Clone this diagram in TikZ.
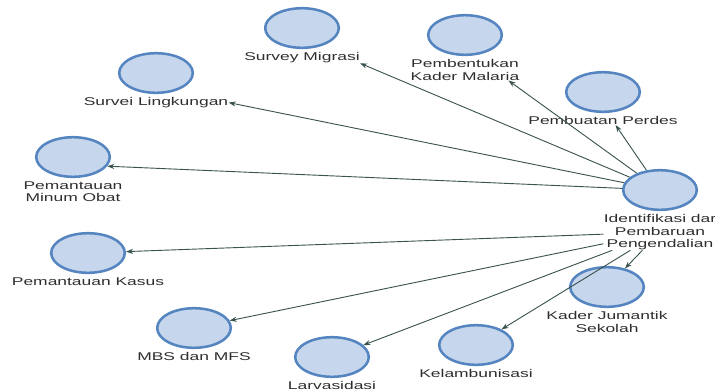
\documentclass[tikz,border=0pt]{standalone}
\usepackage{fontspec}
\newfontfamily\lblfont[FakeStretch=1.55]{Liberation Sans}
\usetikzlibrary{positioning,shapes.geometric,arrows.meta}
\definecolor{nodefill}{HTML}{C6D6EC}
\definecolor{nodeline}{HTML}{5585C0}
\definecolor{edgecol}{HTML}{3B5350}
\definecolor{txtcol}{HTML}{2E2E2E}
\tikzset{
  bubble/.style={ellipse, draw=nodeline, fill=nodefill, line width=1.8pt,
    minimum width=1.84cm, minimum height=0.99cm, inner sep=0pt},
  tag/.style={inner sep=0pt, align=center, text=txtcol,
    font=\lblfont\fontsize{8}{8.9}\selectfont}
}
\begin{document}
\begin{tikzpicture}[x=0.025cm, y=-0.025cm, ->, >={Stealth[length=5pt,width=3.6pt]},
  edgecol, line width=0.65pt]
	\useasboundingbox (0,0) rectangle (715,390);
	\node (id) [bubble] at (660,190) {};
	\node (idL) [tag, below=2pt of id] {Identifikasi dar\\Pembaruan\\Pengendalian};
	\node (sm) [bubble] at (302,28) {};
	\node (smL) [tag, below=2pt of sm] {Survey Migrasi};
	\node (pkm) [bubble] at (465,35) {};
	\node (pkmL) [tag, below=2pt of pkm] {Pembentukan\\Kader Malaria};
	\node (pp) [bubble] at (603,92) {};
	\node (ppL) [tag, below=2pt of pp] {Pembuatan Perdes};
	\node (sl) [bubble] at (156,73) {};
	\node (slL) [tag, below=2pt of sl] {Survei Lingkungan};
	\node (pmo) [bubble] at (73,157) {};
	\node (pmoL) [tag, below=2pt of pmo] {Pemantauan\\Minum Obat};
	\node (pk) [bubble] at (88,253) {};
	\node (pkL) [tag, below=2pt of pk] {Pemantauan Kasus};
	\node (mbs) [bubble] at (194,328) {};
	\node (mbsL) [tag, below=2pt of mbs] {MBS dan MFS};
	\node (lv) [bubble] at (332,357) {};
	\node (lvL) [tag, below=2pt of lv] {Larvasidasi};
	\node (kl) [bubble] at (476,345) {};
	\node (klL) [tag, below=2pt of kl] {Kelambunisasi};
	\node (kjs) [bubble] at (607,287) {};
	\node (kjsL) [tag, below=2pt of kjs] {Kader Jumantik\\Sekolah};
	\draw (id) -> (smL.south east);
	\draw (id) -> (pkmL.-14);
	\draw (id) -> (ppL.-20);
	\draw (id) -> (slL.east);
	\draw (id) -> (pmo.-15);
	\draw (idL) -> (pk);
	\draw (idL) -> (mbs);
	\draw (idL) -> (lv);
	\draw (idL) -> (kl);
	\draw (idL) -> (kjs);
\end{tikzpicture}
\end{document}
